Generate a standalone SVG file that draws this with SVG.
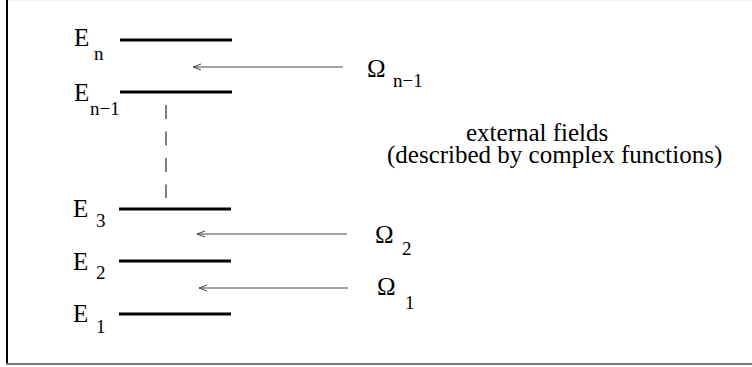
<svg xmlns="http://www.w3.org/2000/svg" width="752" height="367" viewBox="0 0 752 367">
<defs>
<marker id="ah" markerWidth="10" markerHeight="8" refX="9" refY="4" orient="auto" markerUnits="userSpaceOnUse">
<path d="M1,1 L9,4 L1,7" fill="none" stroke="#444" stroke-width="1"/>
</marker>
</defs>
<style>
text{font-family:'Liberation Serif','Times New Roman',serif;fill:#000}
.t{font-size:25px}
.s{font-size:19px}
.lvl{stroke:#000;stroke-width:3}
.arr{stroke:#444;stroke-width:1;fill:none}
</style>
<rect width="752" height="367" fill="#fff"/>
<g id="frame">
<line x1="8" y1="0.5" x2="752" y2="0.5" stroke="#f0f0f0" stroke-width="1"/>
<line x1="7" y1="0" x2="7" y2="365" stroke="#000" stroke-width="2"/>
<line x1="6" y1="364" x2="752" y2="364" stroke="#777" stroke-width="2"/>
</g>
<g id="level-n"><line class="lvl" x1="120" y1="40" x2="232" y2="40"/><text class="t" font-family="Liberation Serif" x="74" y="46">E</text><text class="s" font-family="Liberation Serif" x="94" y="60">n</text></g>
<g id="level-n-1"><line class="lvl" x1="120" y1="92" x2="232" y2="92"/><text class="t" font-family="Liberation Serif" x="74" y="101">E</text><text class="s" font-family="Liberation Serif" x="90" y="115">n−1</text></g>
<g id="level-3"><line class="lvl" x1="119" y1="209" x2="231" y2="209"/><text class="t" font-family="Liberation Serif" x="73" y="217">E</text><text class="s" font-family="Liberation Serif" x="96" y="227">3</text></g>
<g id="level-2"><line class="lvl" x1="119" y1="261" x2="231" y2="261"/><text class="t" font-family="Liberation Serif" x="73" y="270">E</text><text class="s" font-family="Liberation Serif" x="96" y="279">2</text></g>
<g id="level-1"><line class="lvl" x1="119" y1="314" x2="231" y2="314"/><text class="t" font-family="Liberation Serif" x="73" y="322">E</text><text class="s" font-family="Liberation Serif" x="96" y="333">1</text></g>
<g id="omega-n-1"><text class="t" font-family="Liberation Serif" x="367" y="77">Ω</text><text class="s" font-family="Liberation Serif" x="393" y="87">n−1</text></g>
<g id="omega-2"><text class="t" font-family="Liberation Serif" x="375" y="243">Ω</text><text class="s" font-family="Liberation Serif" x="402" y="255">2</text></g>
<g id="omega-1"><text class="t" font-family="Liberation Serif" x="377" y="295">Ω</text><text class="s" font-family="Liberation Serif" x="405" y="309">1</text></g>
<g id="label"><text class="t" font-family="Liberation Serif" x="466" y="141">external fields</text><text class="t" font-family="Liberation Serif" x="387" y="163">(described by complex functions)</text></g>
<g id="connectors">
<line class="arr" x1="343" y1="67" x2="193" y2="67" marker-end="url(#ah)"/>
<line class="arr" x1="347" y1="234" x2="197" y2="234" marker-end="url(#ah)"/>
<line class="arr" x1="348" y1="288" x2="199" y2="288" marker-end="url(#ah)"/>
<line x1="166" y1="105" x2="166" y2="198" stroke="#555" stroke-width="1.5" stroke-dasharray="14 12.5"/>
</g>
</svg>
